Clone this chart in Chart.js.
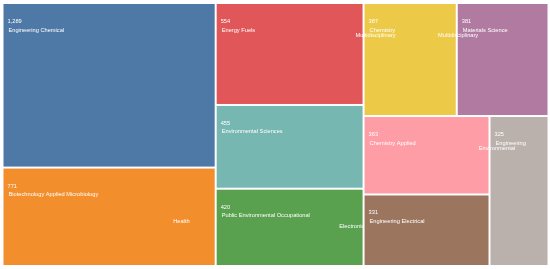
<!DOCTYPE html>
<html>
<head>
<meta charset="utf-8">
<script src="https://cdn.jsdelivr.net/npm/chart.js@4.4.0/dist/chart.umd.min.js"></script>
<style>
  html, body { margin: 0; padding: 0; background: #fff; }
  #wrap { width: 550px; height: 269px; }
</style>
</head>
<body>
<div id="wrap"><canvas id="chart"></canvas></div>
<script>
// Web of Science categories, record counts
const categories = [
    'Engineering Chemical',
    'Biotechnology Applied Microbiology',
    'Energy Fuels',
    'Environmental Sciences',
    'Public Environmental Occupational Health',
    'Chemistry Multidisciplinary',
    'Materials Science Multidisciplinary',
    'Chemistry Applied',
    'Engineering Electrical Electronic',
    'Engineering Environmental'
]
const counts = [1289, 771, 554, 455, 420, 387, 381, 363, 331, 325]
const colors = ['#4e79a7', '#f28e2b', '#e15759', '#76b7b2', '#59a14f',
                '#edc948', '#b07aa1', '#ff9da7', '#9c755f', '#bab0ac']

// squarified layout (same rules as d3.treemapSquarify, golden ratio)
function squarify(values, x0, y0, x1, y1) {
    const ratio = (1 + Math.sqrt(5)) / 2
    const out = []
    const n = values.length
    let value = values.reduce((a, b) => a + b, 0)
    let i0 = 0, i1 = 0
    while (i0 < n) {
        const dx = x1 - x0, dy = y1 - y0
        let sum = values[i1++]
        let minV = sum, maxV = sum
        const alpha = Math.max(dy / dx, dx / dy) / (value * ratio)
        let beta = sum * sum * alpha
        let minRatio = Math.max(maxV / beta, beta / minV)
        for (; i1 < n; ++i1) {
            const v = values[i1]
            sum += v
            if (v < minV) minV = v
            if (v > maxV) maxV = v
            beta = sum * sum * alpha
            const r = Math.max(maxV / beta, beta / minV)
            if (r > minRatio) { sum -= v; break }
            minRatio = r
        }
        if (dx < dy) {
            const h = dy * sum / value
            let x = x0
            for (let i = i0; i < i1; i++) {
                const w = dx * values[i] / sum
                out[i] = [x, y0, x + w, y0 + h]
                x += w
            }
            y0 += h
        } else {
            const w = dx * sum / value
            let y = y0
            for (let i = i0; i < i1; i++) {
                const h = dy * values[i] / sum
                out[i] = [x0, y, x0 + w, y + h]
                y += h
            }
            x0 += w
        }
        value -= sum
        i0 = i1
    }
    return out
}

function wrap(ctx, text, maxWidth) {
    const words = text.split(' ')
    const lines = []
    let line = ''
    for (const w of words) {
        const test = line ? line + ' ' + w : w
        if (line && ctx.measureText(test).width > maxWidth) {
            lines.push(line)
            line = w
        } else {
            line = test
        }
    }
    lines.push(line)
    return lines
}

const treemapPlugin = {
    id: 'treemap',
    afterDatasetsDraw(chart) {
        const { ctx, scales: { x, y } } = chart
        const aspect = (x.right - x.left) / (y.bottom - y.top)
        const cells = squarify(counts, 0, 0, aspect, 1)

        const boxes = cells.map(c => {
            const l = x.getPixelForValue(c[0] / aspect)
            const r = x.getPixelForValue(c[2] / aspect)
            const t = y.getPixelForValue(c[1])
            const b = y.getPixelForValue(c[3])
            return { l: l + 1, t: t + 1, w: r - l - 2, h: b - t - 2 }
        })

        ctx.save()
        boxes.forEach((bx, i) => {
            ctx.fillStyle = colors[i]
            ctx.fillRect(bx.l, bx.t, bx.w, bx.h)
        })

        ctx.fillStyle = '#ffffff'
        ctx.font = '5.7px "Liberation Sans", Arial, sans-serif'
        ctx.textBaseline = 'alphabetic'
        ctx.textAlign = 'left'
        boxes.forEach((bx, i) => {
            ctx.fillText(counts[i].toLocaleString('en-US'), bx.l + 4, bx.t + 19)
            const lines = wrap(ctx, categories[i], bx.w * 0.64)
            const lx = bx.l + 5
            const w1 = ctx.measureText(lines[0]).width
            lines.forEach((ln, k) => {
                const xx = k === 0 ? lx : lx - w1 * 0.55
                ctx.fillText(ln, xx, bx.t + 27.5 + k * 5.5)
            })
        })
        ctx.restore()
    }
}

new Chart(document.getElementById('chart'), {
    type: 'scatter',
    data: { datasets: [{ data: [] }] },
    options: {
        responsive: true,
        maintainAspectRatio: false,
        animation: false,
        layout: { padding: { left: 2.5, right: 1.5, top: 3, bottom: 3 } },
        scales: {
            x: { type: 'linear', min: 0, max: 1, display: false },
            y: { type: 'linear', min: 0, max: 1, reverse: true, display: false }
        },
        plugins: {
            legend: { display: false },
            tooltip: { enabled: false }
        }
    },
    plugins: [treemapPlugin]
})
</script>
</body>
</html>
